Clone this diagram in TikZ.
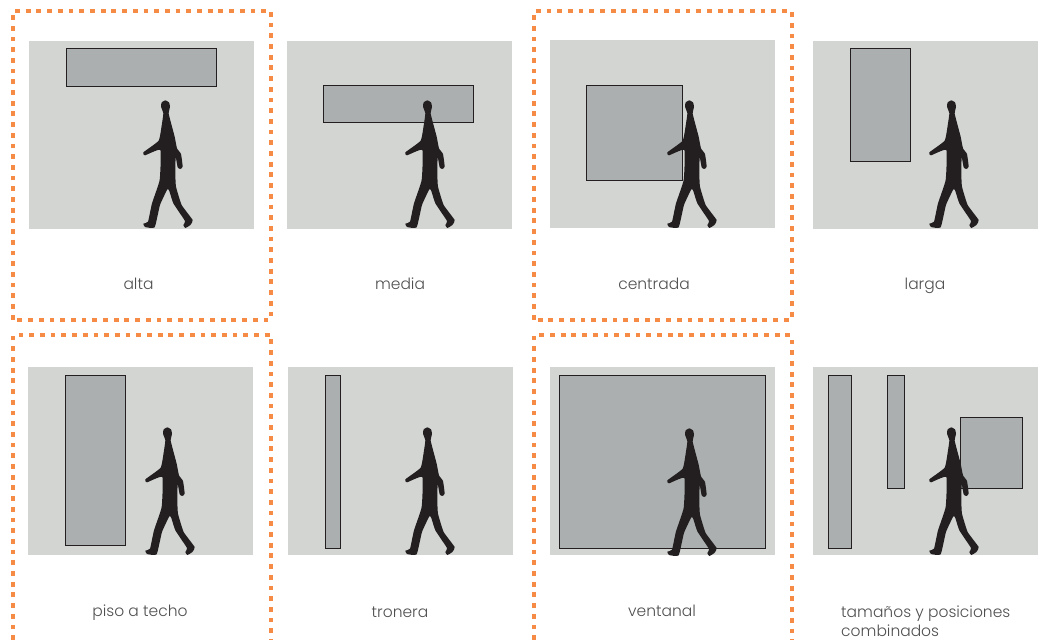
\documentclass[tikz,border=0pt]{standalone}
\usepackage{fontspec}
\setmainfont{Poppins Light}
\definecolor{wall}{HTML}{D3D5D3}
\definecolor{pane}{HTML}{ABAFAF}
\definecolor{ink}{HTML}{231F20}
\definecolor{dash}{HTML}{F68B45}
\definecolor{txt}{HTML}{4F4F4F}
\tikzset{
  wallbox/.style={fill=wall,draw=none},
  panebox/.style={fill=pane,draw=ink,line width=1pt},
  dashbox/.style={draw=dash,line width=4pt,dash pattern=on 4.8pt off 5.9pt},
  captxt/.style={text=txt,font=\fontsize{15.5}{19}\selectfont,align=center,inner sep=0pt},
  figshape/.style={fill=ink,draw=none},
}
\newcommand{\walker}[1]{%
  \begin{scope}[shift={#1},scale=1/3]
  \fill[figshape] plot[smooth cycle,tension=0.25] coordinates {
    (106,31)(117,37)(120,50)(116,70)(122,95)(134,140)(141,175)(153,192)(158,230)(151,237)(143,232)(137,198)(137,185)
    (136,250)(138,290)(155,345)(188,390)(181,405)(166,414)(160,405)(165,393)(130,340)(118,303)(112,298)(90,345)(74,412)(45,411)(40,401)(54,395)(66,340)(89,270)(91,180)
    (45,196)(40,187)(86,152)(96,100)(100,70)(93,50)(95,37)};
  \end{scope}}
\begin{document}
\begin{tikzpicture}[x=1pt,y=-1pt]
\useasboundingbox (0,0) rectangle (1045,640);
\clip (0,0) rectangle (1045,640);
% orange frames
\draw[dashbox] (13.3,319.5) -- (13.3,11) -- (271,11) -- (271,319.5) -- cycle;
\draw[dashbox] (534,319.5) -- (534,11) -- (791.5,11) -- (791.5,319.5) -- cycle;
\draw[dashbox] (13.3,640) -- (13.3,335) -- (271,335) -- (271,640);
\draw[dashbox] (534,640) -- (534,335) -- (791.5,335) -- (791.5,640);
% walls
\fill[wallbox] (29,41) rectangle (254,229);
\fill[wallbox] (287,41) rectangle (512,229);
\fill[wallbox] (550,40) rectangle (775,228);
\fill[wallbox] (813,41) rectangle (1038,229);
\fill[wallbox] (28,367) rectangle (253,555);
\fill[wallbox] (288,367) rectangle (513,555);
\fill[wallbox] (550,367) rectangle (775,555);
\fill[wallbox] (813,367) rectangle (1038,555);
% windows
\draw[panebox] (66.2,48.5) rectangle (216.2,86);
\draw[panebox] (323.8,85) rectangle (473.8,122.5);
\draw[panebox] (586.8,85) rectangle (682.8,180);
\draw[panebox] (850.2,48.5) rectangle (910.2,161);
\draw[panebox] (65.8,375) rectangle (125.8,545);
\draw[panebox] (325.5,375) rectangle (340.8,548);
\draw[panebox] (559.8,375) rectangle (765.8,548);
\draw[panebox] (828.3,375.5) rectangle (851.3,548);
\draw[panebox] (887.5,375.5) rectangle (904.8,488);
\draw[panebox] (960.8,417) rectangle (1022.8,488);
% figures
\walker{(130,90)}
\walker{(392,90)}
\walker{(654,90)}
\walker{(916,90)}
\walker{(132,417)}
\walker{(392,417)}
\walker{(654,418)}
\walker{(916,417)}
% captions
\node[captxt,anchor=base] (c1) at (138.5,289) {alta};
\node[captxt,anchor=base] (c2) at (400,289) {media};
\node[captxt,anchor=base] (c3) at (654,289) {centrada};
\node[captxt,anchor=base] (c4) at (925,289) {larga};
\node[captxt,anchor=base] (c5) at (140,616) {piso a techo};
\node[captxt,anchor=base] (c6) at (400,617) {tronera};
\node[captxt,anchor=base] (c7) at (662,616) {ventanal};
\node[captxt,align=left,anchor=base west] (c8) at (841,636) {tamaños y posiciones\\combinados};
\end{tikzpicture}
\end{document}
